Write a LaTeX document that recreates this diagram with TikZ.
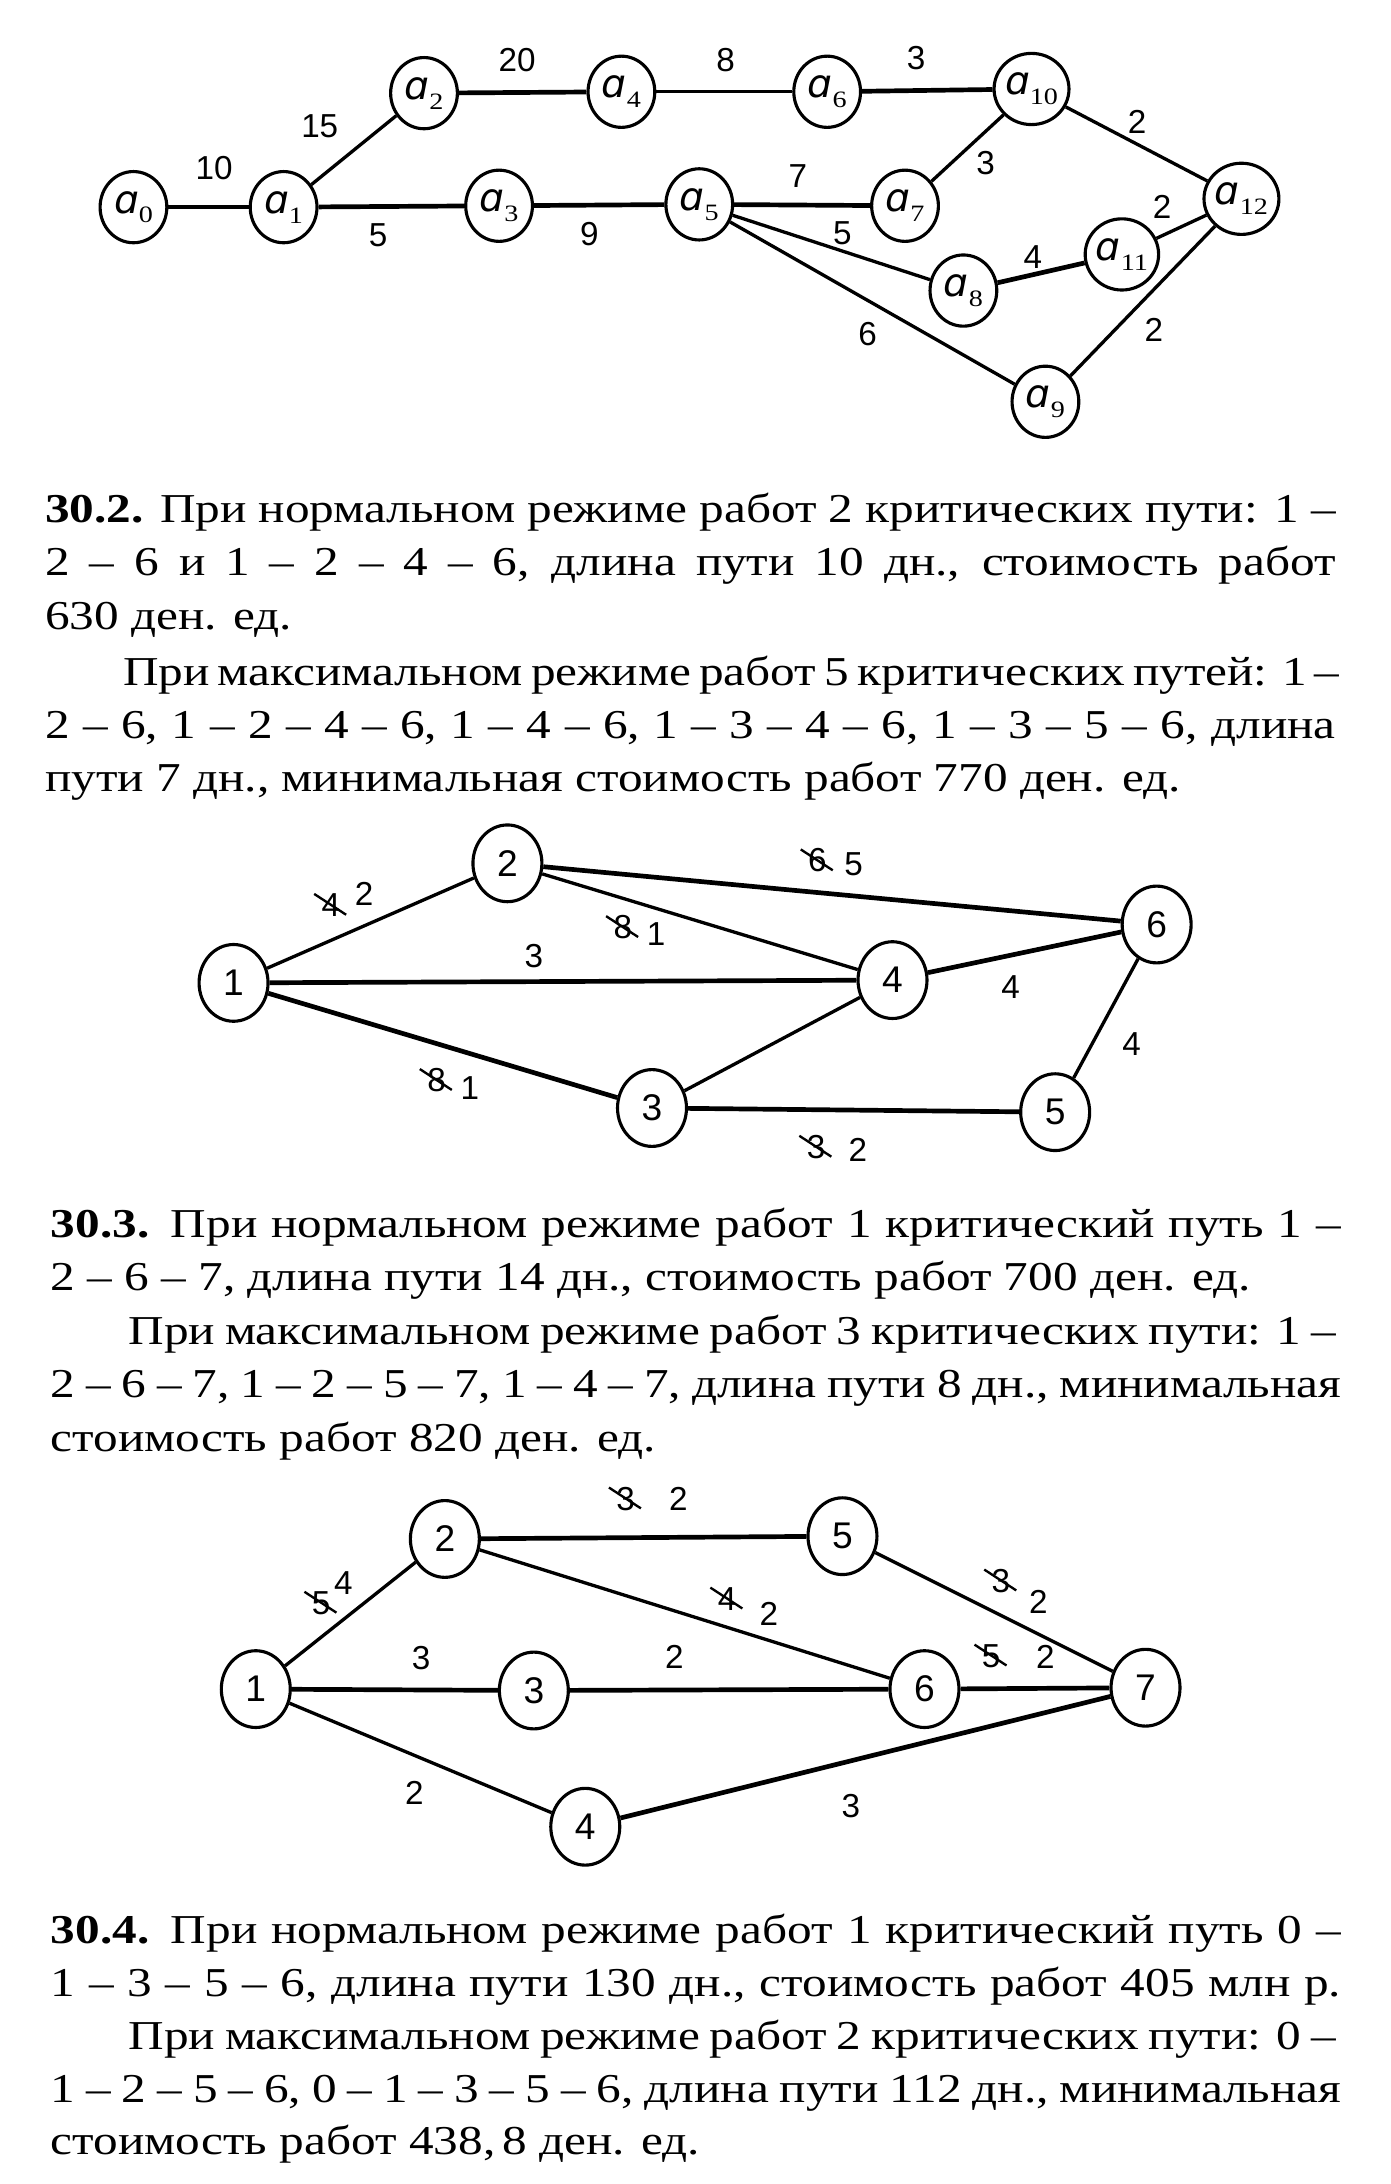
\documentclass[tikz,border=0pt]{standalone}
\usepackage{fontspec}
\setmainfont[FakeStretch=1.2]{Liberation Serif}
\setsansfont{Liberation Sans}
\newfontfamily\dvs{DejaVu Sans}
\usepackage{tikz}
\usetikzlibrary{shapes.geometric}
\newlength{\tw}\setlength{\tw}{11.6cm}
\newlength{\tin}\setlength{\tin}{10.9cm}
\newcommand{\fl}[1]{\makebox[\tw][s]{#1}}
\newcommand{\il}[1]{\makebox[\tin][s]{#1}}
\newcommand{\alab}[1]{{\dvs\itshape ɑ}\raisebox{-0.55ex}{\fontsize{6}{6}\selectfont#1}}

\begin{document}
\begin{tikzpicture}[
    x=0.0125cm, y=-0.0125cm,
    vtx/.style={ellipse, draw, line width=0.8pt, inner sep=0,
        minimum width=0.62cm, minimum height=0.69cm,
        font=\sffamily\fontsize{9.5}{9.5}\selectfont},
    avtx/.style={vtx, minimum width=0.6cm, minimum height=0.64cm,
        font=\fontsize{10}{10}\selectfont},
    lbl/.style={inner sep=0, font=\sffamily\fontsize{8.5}{8.5}\selectfont},
    edge/.style={line width=0.85pt},
    crit/.style={line width=1.2pt},
    strike/.style={line width=0.6pt},
    txt/.style={anchor=base west, inner sep=0, font=\fontsize{10.5}{12}\selectfont}]
\useasboundingbox (0,0) rectangle (1000,1571);

% network 30.1
\node[avtx] (a0) at (96,149) {\alab{0}};
\node[avtx] (a1) at (204,149) {\alab{1}};
\node[avtx] (a2) at (305,67) {\alab{2}};
\node[avtx] (a3) at (359,148) {\alab{3}};
\node[avtx] (a4) at (447,66) {\alab{4}};
\node[avtx] (a5) at (503,147) {\alab{5}};
\node[avtx] (a6) at (595,66) {\alab{6}};
\node[avtx] (a7) at (651,148) {\alab{7}};
\node[avtx] (a8) at (693,209) {\alab{8}};
\node[avtx] (a9) at (752,289) {\alab{9}};
\node[avtx] (a10) at (742,64) {\alab{10}};
\node[avtx] (a11) at (807,183) {\alab{11}};
\node[avtx] (a12) at (893,143) {\alab{12}};

\draw[crit] (a0) -- (a1);
\draw[crit] (a1) -- (a3);
\draw[crit] (a3) -- (a5);
\draw[crit] (a5) -- (a7);
\draw[crit] (a2) -- (a4);
\draw[crit] (a6) -- (a10);
\draw[crit] (a8) -- (a11);
\draw[edge] (a1) -- (a2);
\draw[edge] (a4) -- (a6);
\draw[edge] (a7) -- (a10);
\draw[edge] (a10) -- (a12);
\draw[edge] (a5) -- (a8);
\draw[edge] (a5) -- (a9);
\draw[edge] (a11) -- (a12);
\draw[edge] (a9) -- (a12);

\node[lbl] (w01) at (154,121) {10};
\node[lbl] (w12) at (230,91) {15};
\node[lbl] (w24) at (372,43) {20};
\node[lbl] (w46) at (522,43) {8};
\node[lbl] (w610) at (659,42) {3};
\node[lbl] (w1012) at (818,88) {2};
\node[lbl] (w710) at (709,117) {3};
\node[lbl] (w57) at (574,127) {7};
\node[lbl] (w13) at (272,169) {5};
\node[lbl] (w35) at (424,168) {9};
\node[lbl] (w58) at (606,168) {5};
\node[lbl] (w811) at (743,185) {4};
\node[lbl] (w1112) at (836,149) {2};
\node[lbl] (w59) at (624,240) {6};
\node[lbl] (w912) at (830,237) {2};

% text 30.2
\node[txt] (p21) at (32,376) {\fl{\textbf{30.2.} При нормальном режиме работ 2 критических пути: 1 –}};
\node[txt] (p22) at (32,414) {\fl{2 – 6 и 1 – 2 – 4 – 6, длина пути 10 дн., стоимость работ}};
\node[txt] (p23) at (32,453) {630 ден. ед.};
\node[txt] (p24) at (88,493) {\il{При максимальном режиме работ 5 критических путей: 1 –}};
\node[txt] (p25) at (32,531) {\fl{2 – 6, 1 – 2 – 4 – 6, 1 – 4 – 6, 1 – 3 – 4 – 6, 1 – 3 – 5 – 6, длина}};
\node[txt] (p26) at (32,569) {пути 7 дн., минимальная стоимость работ 770 ден. ед.};

% network 30.2
\node[vtx] (b1) at (168,707) {1};
\node[vtx] (b2) at (365,621) {2};
\node[vtx] (b3) at (469,797) {3};
\node[vtx] (b4) at (642,705) {4};
\node[vtx] (b5) at (759,800) {5};
\node[vtx] (b6) at (832,665) {6};

\draw[crit] (b1) -- (b4);
\draw[crit] (b2) -- (b6);
\draw[crit] (b3) -- (b5);
\draw[crit] (b4) -- (b6);
\draw[crit] (b1) -- (b3);
\draw[edge] (b1) -- (b2);
\draw[edge] (b2) -- (b4);
\draw[edge] (b3) -- (b4);
\draw[edge] (b5) -- (b6);

\node[lbl] (o12) at (238,651) {4};
\node[lbl] (n12) at (262,643) {2};
\node[lbl] (o26) at (588,619) {6};
\node[lbl] (n26) at (614,622) {5};
\node[lbl] (o24) at (448,667) {8};
\node[lbl] (n24) at (472,672) {1};
\node[lbl] (w14) at (384,688) {3};
\node[lbl] (w46b) at (727,710) {4};
\node[lbl] (w56) at (814,751) {4};
\node[lbl] (o13) at (314,777) {8};
\node[lbl] (n13) at (338,783) {1};
\node[lbl] (o35) at (587,825) {3};
\node[lbl] (n35) at (617,827) {2};
\foreach \s in {o12,o26,o24,o13,o35}
    \draw[strike] ([shift={(-12,-8)}]\s.center) -- ([shift={(11,7)}]\s.center);

% text 30.3
\node[txt] (p31) at (36,890) {\fl{\textbf{30.3.} При нормальном режиме работ 1 критический путь 1 –}};
\node[txt] (p32) at (36,928) {2 – 6 – 7, длина пути 14 дн., стоимость работ 700 ден. ед.};
\node[txt] (p33) at (92,967) {\makebox[10.85cm][s]{При максимальном режиме работ 3 критических пути: 1 –}};
\node[txt] (p34) at (36,1005) {\fl{2 – 6 – 7, 1 – 2 – 5 – 7, 1 – 4 – 7, длина пути 8 дн., минимальная}};
\node[txt] (p35) at (36,1044) {стоимость работ 820 ден. ед.};

% network 30.3
\node[vtx] (c1) at (184,1215) {1};
\node[vtx] (c2) at (320,1107) {2};
\node[vtx] (c3) at (384,1216) {3};
\node[vtx] (c4) at (421,1314) {4};
\node[vtx] (c5) at (606,1105) {5};
\node[vtx] (c6) at (665,1215) {6};
\node[vtx] (c7) at (824,1214) {7};

\draw[crit] (c1) -- (c3);
\draw[crit] (c3) -- (c6);
\draw[crit] (c6) -- (c7);
\draw[crit] (c2) -- (c5);
\draw[crit] (c4) -- (c7);
\draw[edge] (c1) -- (c2);
\draw[edge] (c2) -- (c6);
\draw[edge] (c5) -- (c7);
\draw[edge] (c1) -- (c4);

\node[lbl] (q12) at (231,1153) {5};
\node[lbl] (m12) at (247,1139) {4};
\node[lbl] (q25) at (450,1078) {3};
\node[lbl] (m25) at (488,1078) {2};
\node[lbl] (q26) at (523,1150) {4};
\node[lbl] (m26) at (553,1161) {2};
\node[lbl] (q57) at (720,1137) {3};
\node[lbl] (m57) at (747,1152) {2};
\node[lbl] (q67) at (713,1191) {5};
\node[lbl] (m67) at (752,1192) {2};
\node[lbl] (v13) at (303,1193) {3};
\node[lbl] (v36) at (485,1192) {2};
\node[lbl] (v14) at (298,1290) {2};
\node[lbl] (v47) at (612,1299) {3};
\foreach \s in {q12,q25,q26,q57,q67}
    \draw[strike] ([shift={(-12,-8)}]\s.center) -- ([shift={(11,7)}]\s.center);

% text 30.4
\node[txt] (p41) at (36,1398) {\fl{\textbf{30.4.} При нормальном режиме работ 1 критический путь 0 –}};
\node[txt] (p42) at (36,1436) {\fl{1 – 3 – 5 – 6, длина пути 130 дн., стоимость работ 405 млн р.}};
\node[txt] (p43) at (92,1474) {\makebox[10.85cm][s]{При максимальном режиме работ 2 критических пути: 0 –}};
\node[txt] (p44) at (36,1512) {\fl{1 – 2 – 5 – 6, 0 – 1 – 3 – 5 – 6, длина пути 112 дн., минимальная}};
\node[txt] (p45) at (36,1550) {стоимость работ 438,\,8 ден. ед.};

\end{tikzpicture}
\end{document}
